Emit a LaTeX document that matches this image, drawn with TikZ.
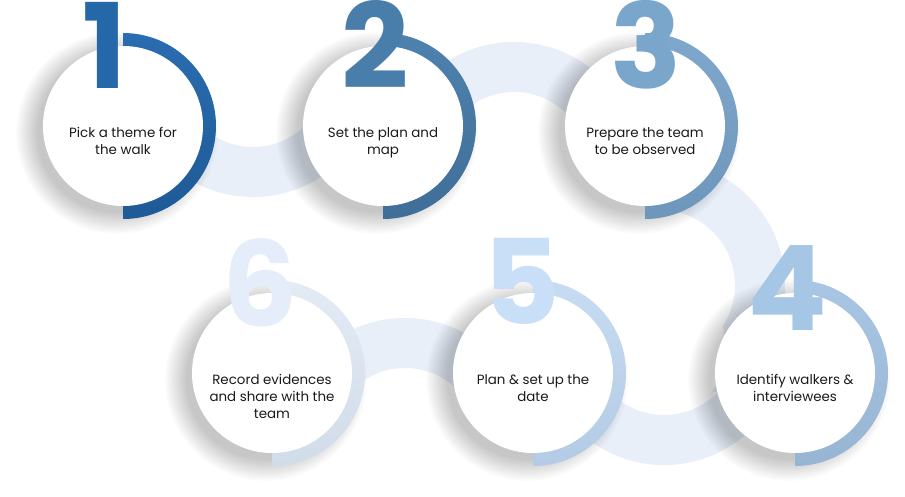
\documentclass[tikz,border=0pt]{standalone}
\usepackage{fontspec}
\setmainfont{Poppins}
\newfontfamily\numfont{Poppins}
\usetikzlibrary{calc}
\definecolor{band}{HTML}{E8EFF8}
\definecolor{txt}{HTML}{1A1A1A}
\definecolor{d1}{HTML}{2468AA}\definecolor{a1t}{HTML}{2A6DB0}\definecolor{a1b}{HTML}{1E5A96}
\definecolor{d2}{HTML}{4A7EAA}\definecolor{a2t}{HTML}{4E82AE}\definecolor{a2b}{HTML}{3F6E98}
\definecolor{d3}{HTML}{7BA6CC}\definecolor{a3t}{HTML}{7FA8CC}\definecolor{a3b}{HTML}{6E96BB}
\definecolor{d4}{HTML}{A6C6E5}\definecolor{a4t}{HTML}{A9C7E4}\definecolor{a4b}{HTML}{97B5D3}
\definecolor{d5}{HTML}{C9DFF7}\definecolor{a5t}{HTML}{C6DCF2}\definecolor{a5b}{HTML}{B3CBE4}
\definecolor{d6}{HTML}{E4EDF9}\definecolor{a6t}{HTML}{E3EBF5}\definecolor{a6b}{HTML}{D1DCE9}
\tikzset{
  stepcircle/.style={circle, fill=white, minimum size=160pt, inner sep=0pt},
  steptext/.style={anchor=north, align=center, text=txt, inner sep=0pt,
    font=\fontsize{13.4}{17}\selectfont},
  stepnum/.style={anchor=base, inner sep=0pt, text depth=0pt,
    font=\numfont\bfseries\fontsize{118}{118}\selectfont},
}
\newcommand\ringseg[3]{%
  \fill[band] ($(#1)+(#2:125)$) arc[start angle=#2, end angle=#3, radius=125]
    -- ($(#1)+(#3:75)$) arc[start angle=#3, end angle=#2, radius=75] -- cycle;}
\newcommand\halfring[3]{%
  \shade[top color=#2, bottom color=#3] ($(#1)+(0,-93)$) arc[start angle=-90, end angle=90, radius=93] -- cycle;}
\begin{document}
\begin{tikzpicture}[x=1pt,y=-1pt]
\useasboundingbox[fill=white] (0,0) rectangle (905,496);
% circle centres
\coordinate (c1) at (123,126);
\coordinate (c2) at (383,126);
\coordinate (c3) at (645,126);
\coordinate (c4) at (795,373);
\coordinate (c5) at (533,373);
\coordinate (c6) at (272,373);
% band arc centres
\coordinate (b12) at (253,72);
\coordinate (b23) at (514,167);
\coordinate (b34) at (660,285);
\coordinate (b45) at (664,340);
\coordinate (b56) at (405,443);
% connecting band
\ringseg{b12}{157.4}{22.6}
\ringseg{b23}{-162.6}{-17.4}
\ringseg{b34}{-95.4}{33.1}
\ringseg{b45}{14.1}{165.9}
\ringseg{b56}{-28.7}{-152.2}
\fill[band] ($(b34)+(33.1:75)$) .. controls (728,350) and (725,370) .. (712,392)
  -- (760,392) -- (760,340) -- cycle;
% soft shadows
\foreach \c in {c1,c2,c3,c4,c5,c6}{
  \foreach \i in {0,...,13}{
    \fill[black, opacity=0.014] ($(\c)+(-6,7)$) circle[radius=80+\i*1.6];
  }
}
% coloured half rings
\halfring{c1}{a1t}{a1b}
\halfring{c2}{a2t}{a2b}
\halfring{c3}{a3t}{a3b}
\halfring{c4}{a4t}{a4b}
\halfring{c5}{a5t}{a5b}
\halfring{c6}{a6t}{a6b}
% white circles
\node[stepcircle] (s1) at (c1) {};
\node[stepcircle] (s2) at (c2) {};
\node[stepcircle] (s3) at (c3) {};
\node[stepcircle] (s4) at (c4) {};
\node[stepcircle] (s5) at (c5) {};
\node[stepcircle] (s6) at (c6) {};
% numbers
\node[stepnum, text=d1] (n1) at (105,88) {1};
\node[stepnum, text=d2] (n2) at (375,88) {2};
\node[stepnum, text=d3] (n3) at (646,88) {3};
\node[stepnum, text=d4] (n4) at (787,330) {4};
\node[stepnum, text=d5] (n5) at (522,324) {5};
\node[stepnum, text=d6] (n6) at (260,326) {6};
% texts
\node[steptext] (t1) at ($(c1)+(0,1)$) {Pick a theme for\\the walk};
\node[steptext] (t2) at ($(c2)+(0,1)$) {Set the plan and\\map};
\node[steptext] (t3) at ($(c3)+(0,1)$) {Prepare the team\\to be observed};
\node[steptext] (t4) at ($(c4)+(0,1)$) {Identify walkers \&\\interviewees};
\node[steptext] (t5) at ($(c5)+(0,1)$) {Plan \& set up the\\date};
\node[steptext] (t6) at ($(c6)+(0,1)$) {Record evidences\\and share with the\\team};
\end{tikzpicture}
\end{document}
